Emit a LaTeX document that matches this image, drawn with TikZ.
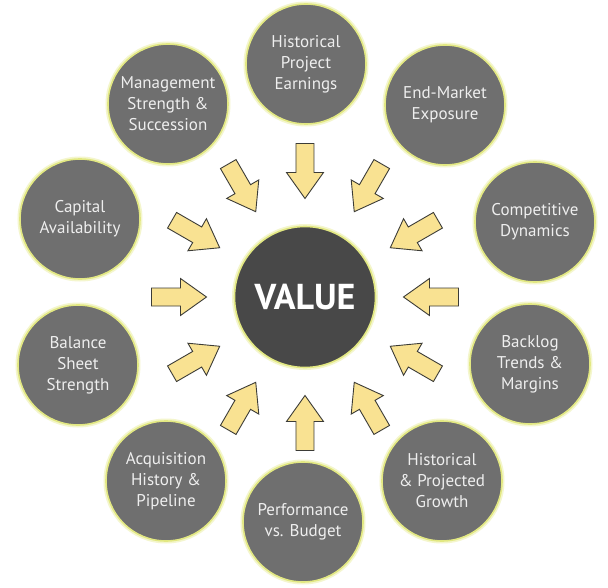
\documentclass[tikz,border=0pt]{standalone}
\usepackage{fontspec}
\setmainfont{PT Sans}
\definecolor{cgray}{RGB}{111,111,111}
\definecolor{cdark}{RGB}{72,72,72}
\definecolor{ctext}{RGB}{238,238,238}
\definecolor{glow}{RGB}{226,232,130}
\definecolor{glowsoft}{RGB}{244,246,205}
\definecolor{afill}{RGB}{249,226,146}
\definecolor{aline}{RGB}{60,60,55}
\begin{document}
\begin{tikzpicture}[x=1pt,y=1pt,
  outer/.style={circle, minimum size=120pt, inner sep=0pt, fill=cgray, draw=glow, line width=1.6pt,
    preaction={draw=glowsoft, line width=5pt}, text=ctext,
    font=\fontsize{17}{21}\selectfont, align=center},
  core/.style={circle, minimum size=141pt, inner sep=0pt, fill=cdark, draw=glow, line width=1.6pt,
    preaction={draw=glowsoft, line width=5pt}, text=white,
    font=\fontsize{36}{40}\selectfont\bfseries},
  bigarrow/.style={fill=afill, draw=aline, line width=0.9pt, line join=miter}]
\useasboundingbox[fill=white] (-305,-290) rectangle (303,297);
\node[core] (value) at (0,0) {VALUE};
\node[outer] (hpe) at (1,233) {Historical\\Project\\Earnings};
\node[outer] (eme) at (140,192) {End-Market\\Exposure};
\node[outer] (cd)  at (230,75) {Competitive\\Dynamics};
\node[outer] (btm) at (225,-67) {Backlog\\Trends \&\\Margins};
\node[outer] (hpg) at (137,-184) {Historical\\\& Projected\\Growth};
\node[outer] (pvb) at (-2,-225) {Performance\\vs. Budget};
\node[outer] (ahp) at (-139,-184) {Acquisition\\History \&\\Pipeline};
\node[outer] (bss) at (-227,-68) {Balance\\Sheet\\Strength};
\node[outer] (ca)  at (-225,78) {Capital\\Availability};
\node[outer] (mss) at (-137,193) {Management\\Strength \&\\Succession};
\foreach \a in {0,30,...,330}{
  \draw[bigarrow, shift={(\a:126)}, rotate=\a+180]
    (-27.5,-9) -- (1.5,-9) -- (1.5,-18.5) -- (27.5,0) -- (1.5,18.5) -- (1.5,9) -- (-27.5,9) -- cycle;
}
\end{tikzpicture}
\end{document}
